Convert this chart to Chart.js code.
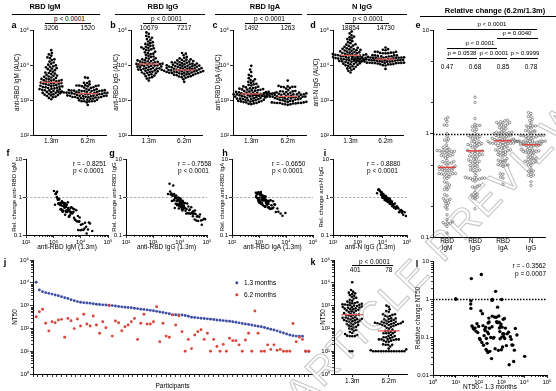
<!DOCTYPE html>
<html><head><meta charset="utf-8">
<script src="https://cdn.jsdelivr.net/npm/chart.js@4/dist/chart.umd.min.js"></script>
<style>
html,body{margin:0;padding:0;background:#fff;}
#fig{position:relative;width:556px;height:391px;overflow:hidden;font-family:"Liberation Sans",Arial,sans-serif;color:#000;background:#fff;}
canvas{position:absolute;}
.t{position:absolute;white-space:nowrap;font-size:6.5px;line-height:1;}
.sm{font-size:6.1px;}
.ttl{font-weight:bold;font-size:7.5px;}
.lt{font-weight:bold;font-size:9px;}
.hl{position:absolute;height:0;border-top:0.8px solid #000;}
.dot{position:absolute;width:3.4px;height:3.4px;border-radius:50%;transform:translate(-50%,-50%);}
#wm{position:absolute;left:306px;top:374px;font-size:40px;letter-spacing:3px;line-height:1;white-space:nowrap;color:rgba(255,255,255,0);-webkit-text-stroke:1.1px rgba(130,130,130,0.45);transform-origin:0 100%;transform:rotate(-46deg);font-family:"Liberation Sans",Arial,sans-serif;}
</style></head><body><div id="fig"></div>
<script>
// ---------------- DATA ----------------
const timepoints = ["1.3m", "6.2m"];
const isotypes = [["RBD","IgM"],["RBD","IgG"],["RBD","IgA"],["N","IgG"]];
// AUC per participant at 1.3 months and 6.2 months
const igm13 = [2450,1380,5200,3100,1820,9800,2700,1150,4100,2200,6900,1600,3500,12500,2050,1300,4700,2900,8100,1700,3800,2350,15800,1450,5900,3250,1950,10900,2600,4400,1250,7600,3000,2150,18500,1550,3650,5500,2800,1880,13800,4250,1050,2500,6400,3400,1750,9200,2250,4900,1420,3150,22000,2000,7100,3900,1650,11800,2700,5000,1200,8600,3350,2100,16500,4600,1500,2950,6100,1850,10200,3700,2400,26500,1350,5700,3050,2300,8900,1600,4000,14500,2550,20000,1900,3600,7900];
const igm62 = [1640,1900,2580,1350,850,1300,1845,720,1680,980,3100,1090,1810,1700,1590,1700,1860,1170,1100,1180,1140,1610,2590,1220,2810,1300,930,1500,1400,1640,1500,1720,1850,910,2600,1020,1680,2260,1220,1230,2040,2210,1500,1510,1600,2490,1070,2660,920,1800,1320,1280,4430,1200,1670,1810,1460,2300,920,1910,1450,1920,1550,1540,1800,2460,1010,1620,1570,1220,1900,1130,1690,3360,1350,1630,1940,1330,2060,1380,1330,3060,1320,4270,920,1590,2510];
const igg13 = [9500,22000,5200,14000,7600,38000,11500,4100,17500,8800,28000,6300,12800,52000,9100,4800,19500,10700,33000,6900,15200,8200,68000,5600,24000,11000,7200,42000,13500,9900,4500,26000,10200,7900,78000,6000,16000,20500,12000,8500,47000,14500,3600,9700,30000,11200,6600,36000,8000,18500,5000,10900,60000,7400,27000,13000,6100,40000,9300,17000,4300,31000,11800,8300,55000,15500,5800,10400,23000,7000,35000,12500,9000,85000,5400,21000,10600,7800,32000,6400,13700,45000,9600,64000,7300,12300,29000];
const igg62 = [6200,9800,5600,7800,7100,13500,6900,9200,8400,5300,11000,6600,9400,15500,7600,5900,7300,8100,12200,4600,10500,6400,17000,11200,8700,5900,7900,12800,6600,7200,5200,14000,9000,4800,21000,5000,7000,11600,7700,8300,11000,9900,4300,5500,9300,8600,6100,16000,6700,12500,3900,7400,14500,5800,10200,7000,7300,9600,8800,6300,6000,13000,5600,7500,19000,8000,4700,6500,10800,6800,8900,10000,4500,22000,6300,7800,9500,5100,11800,3300,8200,14200,6000,12000,7000,5400,10500];
const iga13 = [1350,980,2100,1600,820,3400,1450,1150,2600,1250,5200,1700,900,1900,1400,9500,1050,2300,1550,760,1300,2900,1100,1800,1500,4200,950,2000,1200,1650,850,3100,1480,1020,2450,1380,6300,1750,930,1950,1420,1080,2200,1580,780,1280,3700,1130,1850,1520,990,2700,1330,880,1680,1460,7400,1180,2050,1620,940,3300,1400,1060,2400,1230,4800,1720,910,1980,1470,1090,2150,1560,800,1270,2800,1160,1880,1510,1010,3900,1360,870,1640,2250,1440];
const iga62 = [1500,820,1650,915,1050,1810,1245,1330,1250,1330,2120,1750,835,1500,855,3600,1005,1255,1545,990,885,1760,1410,1250,1455,1695,1260,1535,795,1330,1050,1550,1195,1255,1215,1335,2335,1780,800,1445,1415,750,1610,1625,775,1110,2385,825,1545,1275,825,2210,1075,1115,940,1310,2390,1405,1405,1450,750,2535,1225,850,1920,1030,2380,950,1100,1235,1255,1240,1135,1615,880,1280,1385,1560,1275,1335,730,2450,1205,820,1525,1475,1365];
const nigg13 = [17500,9800,32000,21000,13000,48000,18800,7200,26000,15500,62000,11200,19800,8400,23500,16200,38000,12400,20500,90000,14300,28500,10500,18200,6100,24500,15000,42000,13600,19200,9200,30000,16800,55000,11800,22000,14800,7800,35000,17200,12900,27000,20000,70000,10900,18500,25500,15800,8900,33000,14000,21500,45000,12100,19500,10100,29000,16500,80000,13300,23000,8000,17800,39000,15300,11500,26500,18900,6800,31000,14600,52000,20800,12700,24000,16000,9500,36000,19000,13800,58000,22500,10700,17000,28000,15200,65000];
const nigg62 = [15700,9900,21500,14700,12460,19060,15470,11460,15320,14840,23900,11650,13250,11460,16265,12655,21800,10370,17590,28280,13660,15960,12450,14500,7710,18730,12630,22180,11450,17520,10450,15610,15390,23850,10980,16900,12550,11390,17120,14420,13660,16100,15880,23920,12890,14170,14510,14690,10510,17810,14815,14060,22440,11580,16450,9675,18770,13730,31600,11330,16110,11620,13350,21650,11800,12970,16310,15025,10610,16580,14050,22560,13700,13560,16420,12720,12660,18720,15370,11260,26370,15310,12790,12650,18130,12700,27250];
// medians as printed
const medIgM = [3206, 1520], medIgG = [10679, 7217], medIgA = [1492, 1263], medNIgG = [18854, 14730];
const relMedians = [0.47, 0.68, 0.85, 0.78];
const corrIgM = ["r = - 0.8251","p < 0.0001"], corrIgG = ["r = - 0.7558","p < 0.0001"],
      corrIgA = ["r = - 0.6650","p < 0.0001"], corrNIgG = ["r = - 0.8880","p < 0.0001"],
      corrNT = ["r = - 0.3562","p = 0.0007"];
// NT50 per participant (ordered by 1.3 months value)
const nt50m13 = [10500,4800,4100,3700,3450,3200,2900,2700,2450,2200,2050,1800,1650,1500,1400,1350,1300,1260,1200,1150,1120,1080,1060,1030,1000,960,920,880,850,820,800,770,740,700,680,650,620,590,560,530,500,470,440,401,398,392,388,370,340,310,300,290,280,270,262,255,245,235,228,220,212,205,195,185,175,165,156,148,140,132,125,118,110,100,92,85,78,70,63,57,51,48,46,46,45,10,10];
const nt50m62 = [325,540,690,167,78,196,178,234,250,41,275,218,98,257,128,415,156,128,350,141,61,196,107,1000,46,210,178,79,118,141,196,275,33,167,415,156,156,196,890,26,167,46,41,390,141,360,72,10,33,13,51,72,88,33,61,10,33,16,10,20,10,37,29,29,19,10,31,61,10,580,61,10,10,19,12,19,11,12,10,10,10,165,26,41,33,10,10];
const medNT50 = [401, 78];

// ---------------- HELPERS ----------------
const fig = document.getElementById('fig');
Chart.defaults.font.family = '"Liberation Sans", Arial, sans-serif';
Chart.defaults.color = '#000';
const RED = '#e2605a', BLUE = '#3f4fa3', DRED = '#d8463c';
const SUP = {'0':'⁰','1':'¹','2':'²','3':'³','4':'⁴','5':'⁵','6':'⁶','-':'⁻'};
const pow10 = v => '10' + String(Math.round(Math.log10(v))).split('').map(c => SUP[c]).join('');
const plain = v => String(+(+v).toPrecision(2));
const ratio = (a, b) => b.map((v, i) => v / a[i]);

function txt(s, x, y, o = {}) {
  const d = document.createElement('div');
  d.className = 't' + (o.cls ? ' ' + o.cls : '');
  d.textContent = s;
  d.style.left = x + 'px'; d.style.top = y + 'px';
  const ax = o.align === 'left' ? '0' : o.align === 'right' ? '-100%' : '-50%';
  d.style.transform = `translate(${ax},-50%)`;
  fig.appendChild(d); return d;
}
function hl(x0, x1, y) {
  const d = document.createElement('div'); d.className = 'hl';
  d.style.left = x0 + 'px'; d.style.width = (x1 - x0) + 'px'; d.style.top = y + 'px';
  fig.appendChild(d);
}
function minorVals(lo, hi, mult) {
  const out = [];
  for (let e = lo; e < hi; e++) mult.forEach(m => out.push(m * Math.pow(10, e)));
  return out;
}
const ALL = [2,3,4,5,6,7,8,9];
function minorPl(mx, my) {
  return {id: 'minor', afterDraw(chart) {
    const ctx = chart.ctx; ctx.save(); ctx.strokeStyle = '#000'; ctx.lineWidth = 0.8; ctx.beginPath();
    if (my) { const s = chart.scales.y; my.forEach(v => { const p = Math.round(s.getPixelForValue(v)) + 0.5; ctx.moveTo(s.right, p); ctx.lineTo(s.right - 2, p); }); }
    if (mx) { const s = chart.scales.x; mx.forEach(v => { const p = Math.round(s.getPixelForValue(v)) + 0.5; ctx.moveTo(p, s.top); ctx.lineTo(p, s.top + 2); }); }
    ctx.stroke(); ctx.restore();
  }};
}
function hlinePl(lines) {
  return {id: 'hline', beforeDatasetsDraw(chart) {
    const ctx = chart.ctx, {left, right} = chart.chartArea;
    lines.forEach(l => {
      const y = Math.round(chart.scales.y.getPixelForValue(l.value)) + 0.5;
      ctx.save(); ctx.strokeStyle = l.color; ctx.lineWidth = l.width; ctx.setLineDash(l.dash);
      ctx.beginPath(); ctx.moveTo(left, y); ctx.lineTo(right, y); ctx.stroke(); ctx.restore();
    });
  }};
}
const GRID = (len = 3, draw = true) => ({display: true, drawOnChartArea: false, drawTicks: draw, tickLength: len, color: '#000', lineWidth: 0.8});
const BORDER = {display: true, color: '#000', width: 1};
function logAx(lo, hi, fmt, size = 6) {
  const majors = []; for (let e = lo; e <= hi; e++) majors.push(Math.pow(10, e));
  return {type: 'logarithmic', min: Math.pow(10, lo), max: Math.pow(10, hi),
    afterBuildTicks: s => { s.ticks = majors.map(v => ({value: v})); },
    ticks: {callback: v => fmt(v), font: {size}, color: '#000', padding: 1, autoSkip: false, maxRotation: 0, minRotation: 0},
    grid: GRID(3), border: BORDER};
}
function colAx(labels, size = 6.5, draw = true, len = 2) {
  return {type: 'linear', min: 0.5, max: labels.length + 0.5,
    afterBuildTicks: s => { s.ticks = labels.map((_, i) => ({value: i + 1})); },
    ticks: {callback: v => labels[Math.round(v) - 1], font: {size, lineHeight: 1.05}, color: '#000', padding: 1, autoSkip: false, maxRotation: 0, minRotation: 0},
    grid: GRID(len, draw), border: BORDER};
}
function mk(area, L, B, datasets, scales, plugins, titles = {}) {
  const [x0, y0, x1, y1] = area, T = 6, R = 8;
  const c = document.createElement('canvas');
  const w = x1 - x0 + L + R, h = y1 - y0 + T + B;
  c.width = w; c.height = h;
  Object.assign(c.style, {left: (x0 - L) + 'px', top: (y0 - T) + 'px', width: w + 'px', height: h + 'px'});
  fig.appendChild(c);
  scales.x.afterFit = s => { s.height = B; };
  scales.y.afterFit = s => { s.width = L; };
  if (titles.y) { const [text, cx, size = 6] = titles.y;
    scales.y.title = {display: true, text, color: '#000', font: {size, lineHeight: 1.2}, padding: {top: cx - (x0 - L) - size * 0.6, bottom: 0}}; }
  if (titles.x) { const [text, cy, size = 6.5] = titles.x;
    scales.x.title = {display: true, text, color: '#000', font: {size, lineHeight: 1.2}, padding: {top: 0, bottom: (y1 + B) - cy - size * 0.6}}; }
  new Chart(c, {type: 'scatter', data: {datasets},
    options: {responsive: false, maintainAspectRatio: false, animation: false, devicePixelRatio: 1, events: [],
      layout: {padding: {left: 0, top: T, right: R, bottom: 0}}, scales,
      plugins: {legend: {display: false}, tooltip: {enabled: false}}},
    plugins});
}
// beeswarm layout (horizontal positions only)
function swarm(ys, D) {
  const idx = ys.map((_, i) => i).sort((a, b) => ys[a] - ys[b]);
  const placed = [], off = new Array(ys.length);
  for (const i of idx) {
    const y = ys[i];
    const near = placed.filter(p => Math.abs(p.y - y) < D);
    const cands = [0];
    near.forEach(p => { const dx = Math.sqrt(D * D - (p.y - y) ** 2); cands.push(p.x + dx, p.x - dx); });
    cands.sort((a, b) => Math.abs(a) - Math.abs(b) || a - b);
    let x = 0;
    for (const cnd of cands) { if (near.every(p => (p.x - cnd) ** 2 + (p.y - y) ** 2 >= D * D - 1e-6)) { x = cnd; break; } }
    placed.push({x, y}); off[i] = x;
  }
  return off;
}
function swarmCol(vals, col, pxDec, pxUnit, D) {
  const off = swarm(vals.map(v => Math.log10(v) * pxDec), D);
  return vals.map((v, i) => ({x: col + off[i] / pxUnit, y: v}));
}
const dots = (data, color, r = 1.4) => ({data, backgroundColor: color, borderWidth: 0, pointRadius: r, pointHoverRadius: r, clip: false});
const rings = (data, r = 1.3) => ({data, backgroundColor: 'rgba(0,0,0,0)', borderColor: '#555', borderWidth: 0.6, pointRadius: r, pointHoverRadius: r, clip: false});
const medLine = (col, v, w, color = RED, lw = 1.3) => ({type: 'line', data: [{x: col - w, y: v}, {x: col + w, y: v}], borderColor: color, borderWidth: lw, pointRadius: 0, showLine: true, clip: false});

// ---------------- ROW 1: a-d ----------------
const rows1 = [
  {area: [33, 30, 106, 135], m13: igm13, m62: igm62, med: medIgM, ytitle: 'anti-RBD IgM (AUC)', tx: 17.5, L: 21},
  {area: [131, 30, 202, 135], m13: igg13, m62: igg62, med: medIgG, ytitle: 'anti-RBD IgG (AUC)', tx: 116.5, L: 21},
  {area: [233, 30, 306, 135], m13: iga13, m62: iga62, med: medIgA, ytitle: 'anti-RBD IgA (AUC)', tx: 218.5, L: 21},
  {area: [333, 30, 403, 135], m13: nigg13, m62: nigg62, med: medNIgG, ytitle: 'anti-N IgG (AUC)', tx: 316, L: 20},
];
rows1.forEach(p => {
  const [x0, y0, x1, y1] = p.area;
  const pxDec = (y1 - y0) / 3, pxUnit = (x1 - x0) / 2;
  const ds = [medLine(1, p.med[0], 0.28), medLine(2, p.med[1], 0.28),
    dots(swarmCol(p.m13, 1, pxDec, pxUnit, 2.7), '#000', 1.35), dots(swarmCol(p.m62, 2, pxDec, pxUnit, 2.7), '#000', 1.35)];
  mk(p.area, p.L, 12, ds, {x: colAx(timepoints), y: logAx(2, 5, pow10)}, [], {y: [p.ytitle, p.tx, 6.3]});
  const c1 = x0 + pxUnit * 0.5, c2 = x0 + pxUnit * 1.5;
  txt('p < 0.0001', (c1 + c2) / 2, 19);
  hl(c1 - 6, c2 + 3, 22.5);
  txt(String(p.med[0]), c1, 27.5); txt(String(p.med[1]), c2, 27.5);
});
txt('RBD IgM', 45, 7, {cls: 'ttl'}); hl(12, 100, 14);
txt('RBD IgG', 163, 7, {cls: 'ttl'}); hl(115, 205, 14);
txt('RBD IgA', 265, 7, {cls: 'ttl'}); hl(215, 302, 14);
txt('N IgG', 362, 7, {cls: 'ttl'}); hl(307, 407, 14);
txt('Relative change (6.2m/1.3m)', 495, 11, {cls: 'ttl'}); hl(420, 556, 16);

// ---------------- e ----------------
const relIgM = ratio(igm13, igm62), relIgG = ratio(igg13, igg62), relIgA = ratio(iga13, iga62), relNIgG = ratio(nigg13, nigg62);
(() => {
  const area = [433, 30, 545, 237];
  const pxDec = (area[3] - area[1]) / 2, pxUnit = (area[2] - area[0]) / 4;
  const ds = relMedians.map((m, i) => medLine(i + 1, m, 0.32, '#e2413a', 1.4));
  [relIgM, relIgG, relIgA, relNIgG].forEach((r, i) => ds.push(rings(swarmCol(r, i + 1, pxDec, pxUnit, 2.7), 1.25)));
  mk(area, 14, 20, ds, {x: colAx(isotypes, 6.5, false), y: logAx(-1, 1, plain)},
     [minorPl(null, [2, 5, 0.2, 0.5]), hlinePl([{value: 1, color: '#000', width: 1.3, dash: [1.5, 1.5]}])]);
  const cx = i => area[0] + pxUnit * (i + 0.5);
  relMedians.forEach((m, i) => txt(m.toFixed(2), cx(i), 67));
  txt('p < 0.0001', 492, 24, {cls: 'sm'}); hl(447, 537, 29);
  txt('p = 0.0040', 517, 33, {cls: 'sm'}); hl(497, 538, 37.5);
  txt('p < 0.0001', 480, 43, {cls: 'sm'}); hl(447, 497, 47.5);
  txt('p = 0.0538', 462, 53, {cls: 'sm'}); txt('p < 0.0001', 494, 53, {cls: 'sm'}); txt('p > 0.9999', 525, 53, {cls: 'sm'});
  hl(447, 477, 57.5); hl(479, 507, 57.5); hl(510, 538, 57.5);
})();

// ---------------- ROW 2: f-i ----------------
const rows2 = [
  {area: [26, 159, 108, 235], m13: igm13, rel: relIgM, ytitle: 'Rel. change anti-RBD IgM', xtitle: 'anti-RBD IgM (1.3m)', tx: 14.5, r: corrIgM, rx: 73},
  {area: [126, 159, 207, 235], m13: igg13, rel: relIgG, ytitle: 'Rel. change anti-RBD IgG', xtitle: 'anti-RBD IgG (1.3m)', tx: 114.5, r: corrIgG, rx: 178},
  {area: [232, 159, 313, 235], m13: iga13, rel: relIgA, ytitle: 'Rel. change anti-RBD IgA', xtitle: 'anti-RBD IgA (1.3m)', tx: 222, r: corrIgA, rx: 272},
  {area: [333, 159, 407, 235], m13: nigg13, rel: relNIgG, ytitle: 'Rel. change anti-N IgG', xtitle: 'anti-N IgG (1.3m)', tx: 321, r: corrNIgG, rx: 367},
];
rows2.forEach(p => {
  const pts = p.m13.map((v, i) => ({x: v, y: p.rel[i]}));
  mk(p.area, 21, 17, [dots(pts, '#000', 1.25)],
     {x: logAx(2, 5, pow10), y: logAx(-1, 1, plain)},
     [minorPl(minorVals(2, 5, ALL), null), hlinePl([{value: 1, color: '#9a9a9a', width: 0.8, dash: [2.5, 1.5]}])],
     {y: [p.ytitle, p.tx, 6], x: [p.xtitle, 247, 6.5]});
  txt(p.r[0], p.rx, 164, {align: 'left'}); txt(p.r[1], p.rx, 170.5, {align: 'left'});
});

// ---------------- j ----------------
(() => {
  const area = [33, 260, 312, 374];
  const blue = nt50m13.map((v, i) => ({x: i + 1, y: v}));
  const red = nt50m62.map((v, i) => ({x: i + 1, y: v}));
  const xs = {type: 'linear', min: 0, max: 88,
    afterBuildTicks: s => { const t = []; for (let v = 0; v <= 88; v += 1.5) t.push({value: v}); s.ticks = t; },
    ticks: {callback: () => '', font: {size: 6}, padding: 0, autoSkip: false, maxRotation: 0},
    grid: GRID(3), border: BORDER};
  mk(area, 22, 16, [dots(red, DRED, 1.45), dots(blue, BLUE, 1.45)], {x: xs, y: logAx(0, 5, pow10)},
     [minorPl(null, minorVals(0, 5, ALL))], {y: ['NT50', 15.5, 6.3], x: ['Participants', 386, 6.5]});
  const d1 = document.createElement('div'); d1.className = 'dot'; Object.assign(d1.style, {left: '237px', top: '283px', background: BLUE}); fig.appendChild(d1);
  const d2 = document.createElement('div'); d2.className = 'dot'; Object.assign(d2.style, {left: '237px', top: '294.5px', background: DRED}); fig.appendChild(d2);
  txt('1.3 months', 244, 283, {align: 'left'}); txt('6.2 months', 244, 294.5, {align: 'left'});
})();

// ---------------- k ----------------
(() => {
  const area = [334, 260, 407, 374];
  const pxDec = (area[3] - area[1]) / 5, pxUnit = (area[2] - area[0]) / 2;
  const ds = [medLine(1, medNT50[0], 0.3), medLine(2, medNT50[1], 0.3),
    dots(swarmCol(nt50m13, 1, pxDec, pxUnit, 2.6), '#000', 1.3), dots(swarmCol(nt50m62, 2, pxDec, pxUnit, 2.6), '#000', 1.3)];
  mk(area, 22, 12, ds, {x: colAx(timepoints, 6.5, true, 3), y: logAx(0, 5, pow10)},
     [minorPl(null, minorVals(0, 5, ALL))], {y: ['NT50', 323, 6.3]});
  const c1 = area[0] + pxUnit * 0.5, c2 = area[0] + pxUnit * 1.5;
  txt('p < 0.0001', (c1 + c2) / 2 + 4, 261.5); hl(c1, c2 + 4, 265);
  txt(String(medNT50[0]), c1 + 3, 269.5); txt(String(medNT50[1]), c2, 269.5);
})();

// ---------------- l ----------------
(() => {
  const area = [433, 261, 547, 375];
  const relNT = ratio(nt50m13, nt50m62);
  const pts = nt50m13.map((v, i) => ({x: v, y: relNT[i]}));
  mk(area, 20, 16, [dots(pts, '#000', 1.7)], {x: logAx(0, 5, pow10), y: logAx(-2, 1, plain)},
     [minorPl(minorVals(0, 5, ALL), minorVals(-2, 1, ALL)), hlinePl([{value: 1, color: '#000', width: 1.3, dash: [1.5, 1.5]}])],
     {y: ['Relative change NT50', 418.5, 6.3], x: ['NT50 - 1.3 months', 387, 6.5]});
  txt(corrNT[0], 546, 266, {align: 'right'}); txt(corrNT[1], 546, 274, {align: 'right'});
})();

// panel letters
[['a', 14, 25], ['b', 113, 25], ['c', 215, 25], ['d', 313, 25], ['e', 418, 25],
 ['f', 8, 153], ['g', 112, 153], ['h', 225, 153], ['i', 325, 153],
 ['j', 5, 262], ['k', 313, 262], ['l', 417, 264]].forEach(([s, x, y]) => txt(s, x, y, {cls: 'lt'}));

const wm = document.createElement('div'); wm.id = 'wm'; wm.textContent = 'ARTICLE PREVIEW'; fig.appendChild(wm);
</script></body></html>
